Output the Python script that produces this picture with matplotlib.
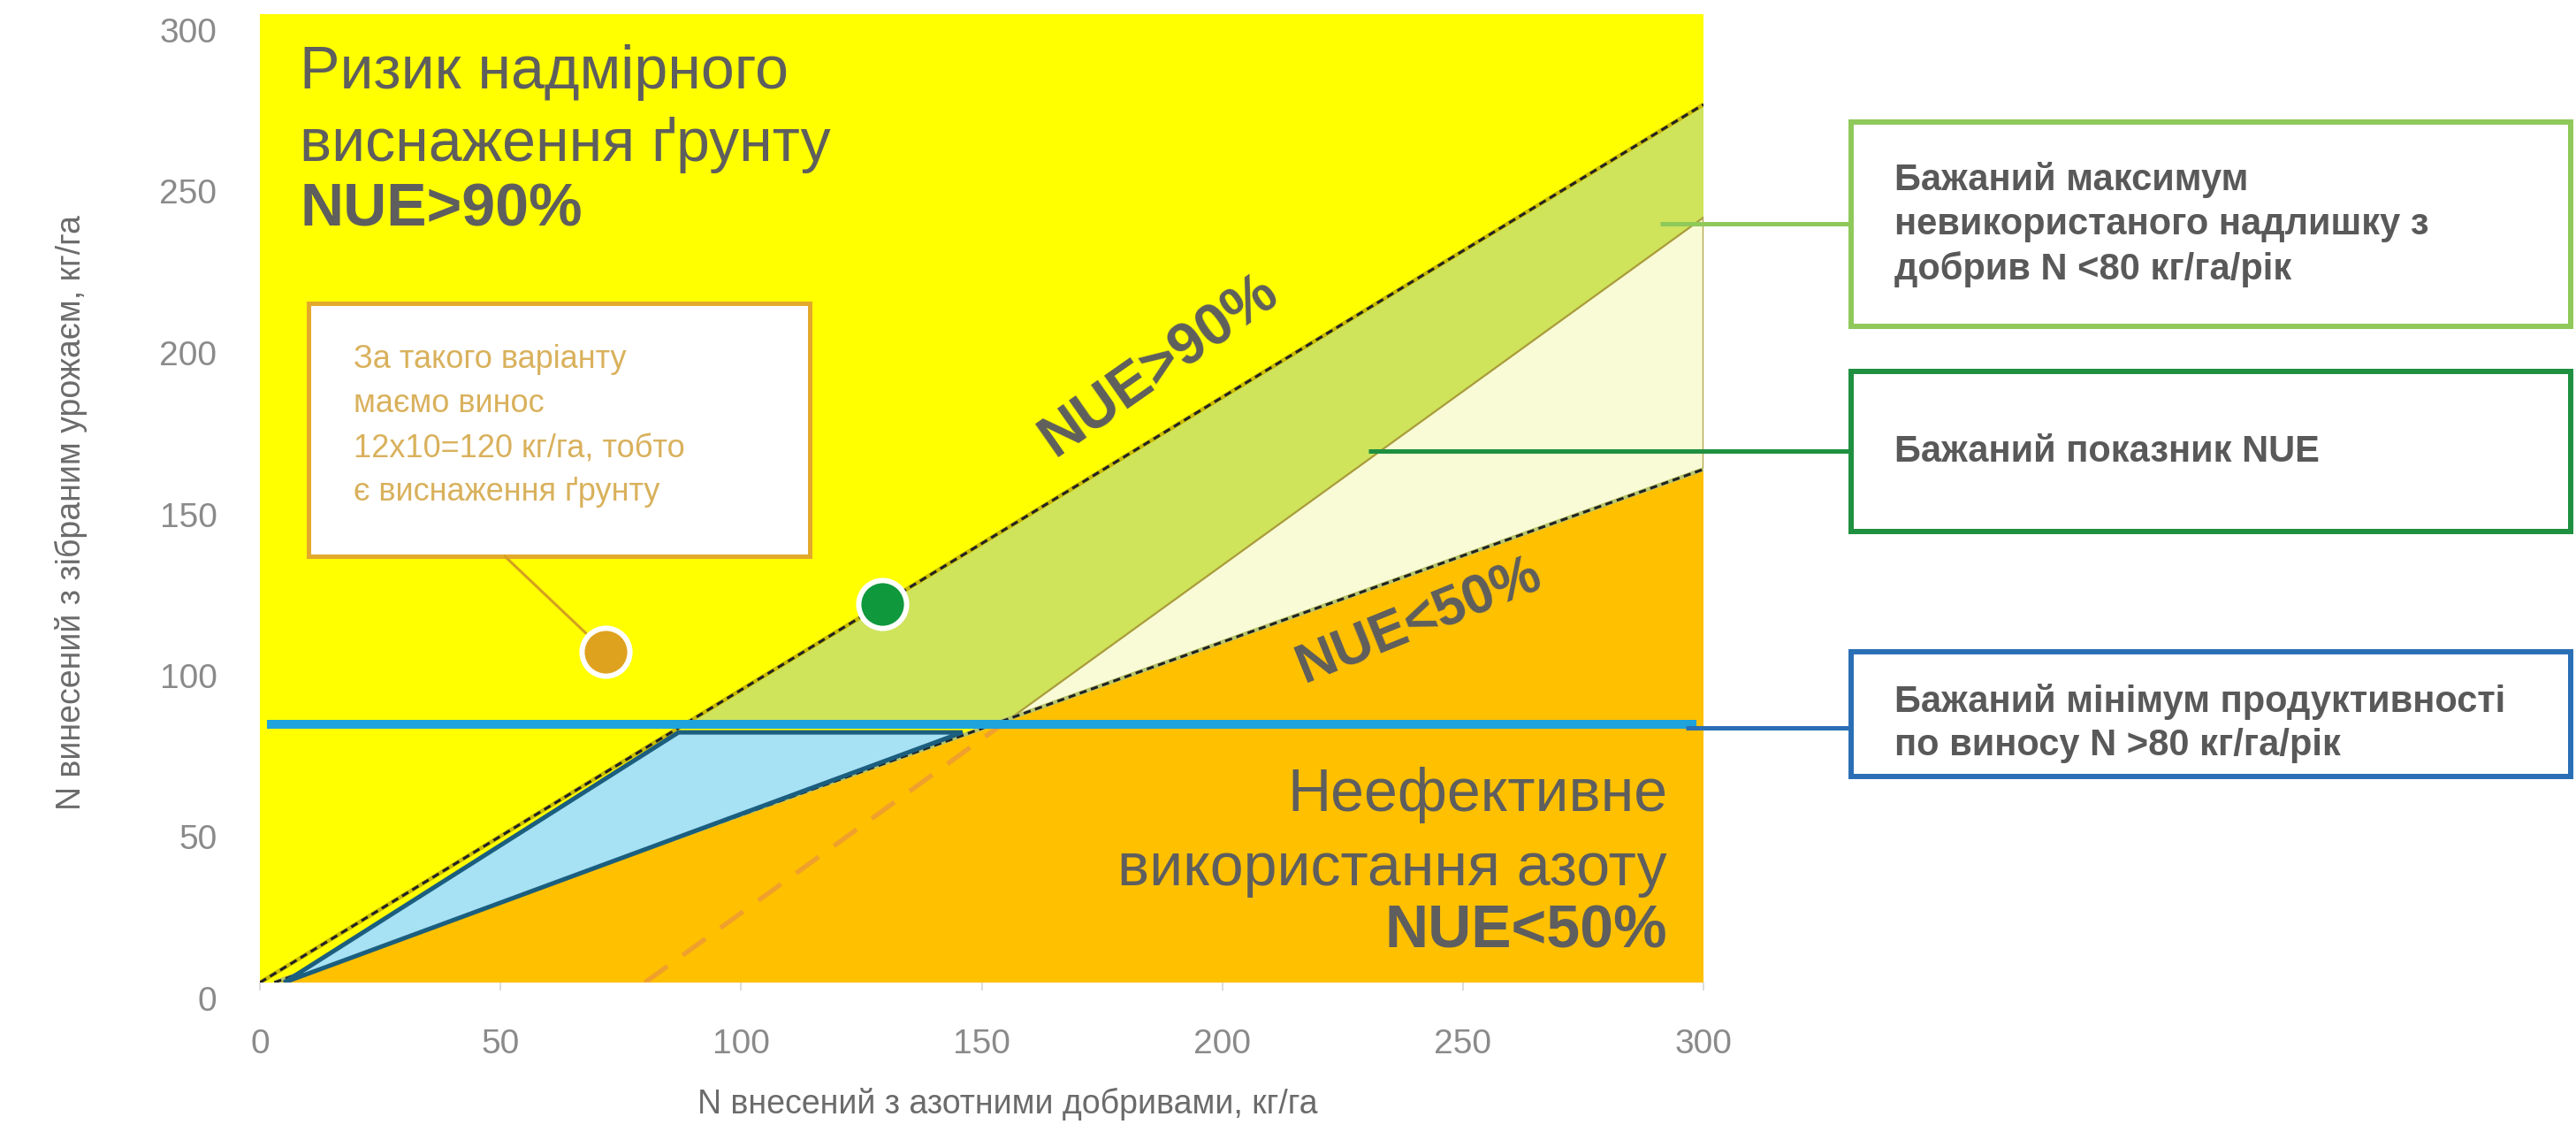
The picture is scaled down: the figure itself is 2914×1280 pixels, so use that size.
import numpy as np
import matplotlib
matplotlib.use("Agg")
import matplotlib.pyplot as plt
from matplotlib.patches import Polygon, Rectangle
import matplotlib.transforms as mtransforms

plt.rcParams['font.family'] = ['Liberation Sans', 'DejaVu Sans']

# ---- data -------------------------------------------------------------
x_ticks = [0, 50, 100, 150, 200, 250, 300]
y_ticks = [0, 50, 100, 150, 200, 250, 300]

# efficiency boundaries (endpoints, kg/ha)
nue90_x = [0, 300]
nue90_y = [0, 272]
nue50_x = [3, 300]
nue50_y = [0, 159]
# unused-surplus limit line (80 kg/ha surplus)
surplus_x = [80, 300]
surplus_y = [0, 237]
# minimum desired removal with yield
min_removal = 80
min_removal_x = [1.5, 298.5]

# low-yield wedge between the two efficiency lines
wedge_x = [5, 87, 146]
wedge_y = [0, 77.5, 77.5]

# example fields
points_x = [71.8, 129.3]
points_y = [102.5, 117.3]
point_colors = ['#dfa21f', '#10983d']

# ---- colours ------------------------------------------------------------
YELLOW = '#ffff00'
GREEN_BAND = '#cfe35b'
CREAM = '#f9fbd6'
ORANGE = '#ffc000'
WEDGE = '#a7e1f4'
WEDGE_EDGE = '#1b5e7e'
BLUE = '#1ea3dc'
TEXT = '#5e5e5e'


def x_at(xs, ys, y):
    return xs[0] + (y - ys[0]) * (xs[1] - xs[0]) / (ys[1] - ys[0])


def y_at(xs, ys, x):
    return ys[0] + (x - xs[0]) * (ys[1] - ys[0]) / (xs[1] - xs[0])


def cross(ax_, ay_, bx_, by_):
    a1 = (ay_[1] - ay_[0]) / (ax_[1] - ax_[0])
    b1 = (by_[1] - by_[0]) / (bx_[1] - bx_[0])
    a0 = ay_[0] - a1 * ax_[0]
    b0 = by_[0] - b1 * bx_[0]
    x = (b0 - a0) / (a1 - b1)
    return x, a0 + a1 * x


W, H = 2914, 1280
fig = plt.figure(figsize=(W / 100, H / 100), dpi=100)
fig.patch.set_facecolor('white')

ax = fig.add_axes([294 / W, 1 - 1111 / H, (1927 - 294) / W, (1111 - 16) / H])
ax.set_xlim(0, 300)
ax.set_ylim(0, 300)
ax.set_facecolor(YELLOW)
for s in ax.spines.values():
    s.set_visible(False)

xmax = nue90_x[1]

# green band: above minimum removal, below NUE 90 %
x90 = x_at(nue90_x, nue90_y, min_removal)
ax.add_patch(Polygon([(x90, min_removal), (xmax, y_at(nue90_x, nue90_y, xmax)),
                      (xmax, min_removal)], closed=True, facecolor=GREEN_BAND,
                     edgecolor='none', zorder=1))

# desired NUE triangle
cx, cy = cross(surplus_x, surplus_y, nue50_x, nue50_y)
ax.add_patch(Polygon([(cx, cy), (xmax, y_at(surplus_x, surplus_y, xmax)),
                      (xmax, y_at(nue50_x, nue50_y, xmax))], closed=True,
                     facecolor=CREAM, edgecolor='#a99c3a', lw=1.6, zorder=2))

# inefficient use zone (below NUE 50 %)
ax.add_patch(Polygon([(nue50_x[0], 0), (nue50_x[1], nue50_y[1]), (xmax, 0)],
                     closed=True, facecolor=ORANGE, edgecolor='none', zorder=3))

# surplus limit drawn as dashed line up to the crossing
ax.plot([surplus_x[0], cx], [surplus_y[0], cy], color='#f0a02c', lw=3.8,
        dashes=(6, 4), zorder=4)

# NUE boundaries
for xs, ys, base in ((nue90_x, nue90_y, '#c9bb00'), (nue50_x, nue50_y, '#b9c56a')):
    ax.plot(xs, ys, color=base, lw=3.4, zorder=6, solid_capstyle='butt')
    ax.plot(xs, ys, color='#222222', lw=2.2, dashes=(2.7, 1.7), zorder=7)

# low-yield wedge
ax.add_patch(Polygon(list(zip(wedge_x, wedge_y)), closed=True, facecolor=WEDGE,
                     edgecolor=WEDGE_EDGE, lw=3.6, joinstyle='miter', zorder=7.5))

# minimum removal line
ax.plot(min_removal_x, [min_removal, min_removal], color=BLUE, lw=7.2,
        solid_capstyle='butt', zorder=8)

# example fields
for px, py, c in zip(points_x, points_y, point_colors):
    ax.plot(px, py, 'o', ms=39, mfc=c, mec='white', mew=4.3, zorder=9)

# rotated boundary labels
ax.text(187, 191, 'NUE>90%', rotation=35, ha='center', va='center', fontsize=48,
        fontweight='bold', color=TEXT, zorder=10)
ax.text(241, 112, 'NUE<50%', rotation=22, ha='center', va='center', fontsize=45,
        fontweight='bold', color=TEXT, zorder=10)

# ticks
ax.set_xticks(x_ticks)
ax.set_yticks(y_ticks)
ax.tick_params(axis='x', length=6.5, width=1.2, color='#d6d6d6', direction='out',
               pad=31, labelsize=28, labelcolor='#8a8a8a')
ax.tick_params(axis='y', length=0, pad=35, labelsize=28, labelcolor='#8a8a8a')
shift = mtransforms.ScaledTranslation(0, -18 / 100, fig.dpi_scale_trans)
for lab in ax.get_yticklabels():
    lab.set_transform(lab.get_transform() + shift)

# ---- annotation layer in pixel coordinates --------------------------------
ov = fig.add_axes([0, 0, 1, 1], zorder=5)
ov.set_xlim(0, W)
ov.set_ylim(H, 0)
ov.axis('off')
ov.set_facecolor('none')

# axis titles
ov.text(1140, 1248, 'N внесений з азотними добривами, кг/га', fontsize=27,
        color='#6b6b6b', ha='center', va='center')
ov.text(80, 580, 'N винесений з зібраним урожаєм, кг/га', fontsize=27,
        color='#6b6b6b', ha='center', va='center', rotation=90)

# zone captions
for txt, y, bold in (('Ризик надмірного', 82, False),
                     ('виснаження ґрунту', 164, False),
                     ('NUE>90%', 237, True)):
    ov.text(339, y, txt, fontsize=49, color=TEXT, va='center', ha='left',
            fontweight='bold' if bold else 'normal')
for txt, y, bold in (('Неефективне', 899, False),
                     ('використання азоту', 983, False),
                     ('NUE<50%', 1054, True)):
    ov.text(1886, y, txt, fontsize=49, color=TEXT, va='center', ha='right',
            fontweight='bold' if bold else 'normal')

# callout for the orange field
ov.add_patch(Rectangle((349, 343), 916 - 349, 629 - 343, facecolor='white',
                       edgecolor='#e3a92a', lw=3.6, zorder=3))
for txt, y in (('За такого варіанту', 407), ('маємо винос', 456),
               ('12x10=120 кг/га, тобто', 508), ('є виснаження ґрунту', 557)):
    ov.text(400, y, txt, fontsize=26, color='#d9b15c', va='center', ha='left',
            zorder=4)
ov.annotate('', xy=(points_x[0], points_y[0]), xycoords=ax.transData,
            xytext=(571, 629), textcoords=ov.transData,
            arrowprops=dict(arrowstyle='-', color='#d4a020', lw=2.2,
                            shrinkA=0, shrinkB=22))

# legend boxes on the right
boxes = [
    (138, 369, '#8fc95a', ['Бажаний максимум', 'невикористаного надлишку з',
                           'добрив N <80 кг/га/рік'], [203, 254, 305], 253, 1878),
    (420, 601, '#1e9040', ['Бажаний показник NUE'], [511], 510, 1548),
    (737, 878, '#2a6fb5', ['Бажаний мінімум продуктивності',
                           'по виносу N >80 кг/га/рік'], [794, 843], 823, 1907),
]
for top, bottom, col, lines, ys, ly, lx in boxes:
    ov.add_patch(Rectangle((2094, top), 2908 - 2094, bottom - top,
                           facecolor='white', edgecolor=col, lw=4.3))
    for txt, y in zip(lines, ys):
        ov.text(2143, y, txt, fontsize=30, fontweight='bold', color='#595959',
                va='center', ha='left')
    ov.plot([lx, 2094], [ly, ly], color=col, lw=3.6, solid_capstyle='butt')

fig.savefig('out.png', dpi=100, facecolor='white')
